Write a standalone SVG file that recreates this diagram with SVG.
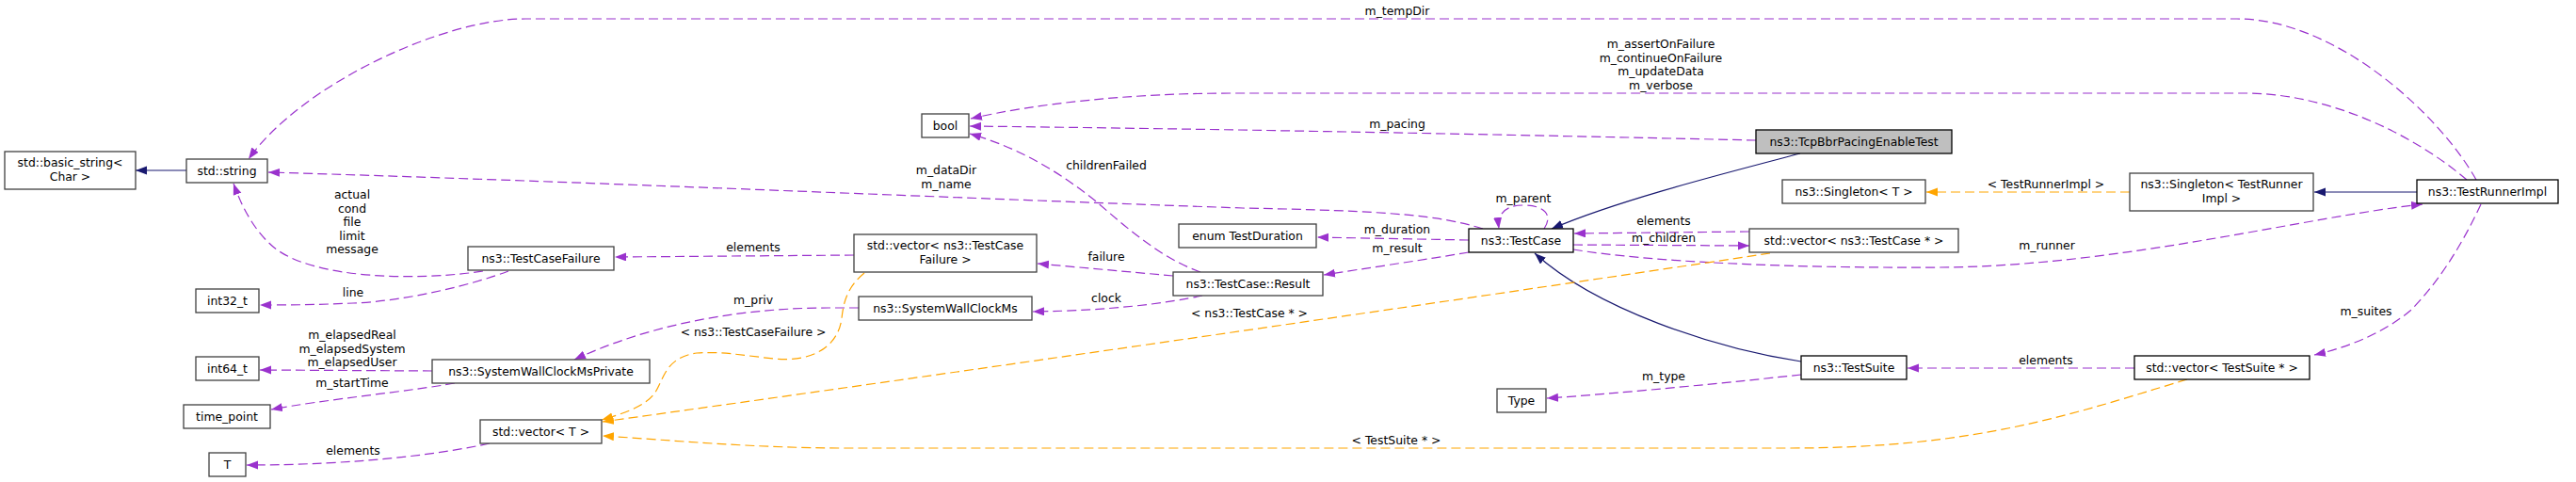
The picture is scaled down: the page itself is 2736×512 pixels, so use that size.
<svg xmlns="http://www.w3.org/2000/svg" width="2736" height="512" viewBox="0 0 2736 512">
<style>
  .n rect { fill: #ffffff; stroke: #404040; stroke-width: 1.3; }
  .n.k rect { stroke: #000000; }
  .n.main rect { fill: #bfbfbf; stroke: #000000; }
  text { font-family: "DejaVu Sans", "Liberation Sans", sans-serif; font-size: 12.4px; fill: #000000; text-anchor: middle; }
  .e { fill: none; stroke-width: 1.2; }
  .p { stroke: #9a32cd; stroke-dasharray: 10,5; marker-end: url(#ap); }
  .o { stroke: #ffa500; stroke-dasharray: 10,5; marker-end: url(#ao); }
  .i { stroke: #191970; marker-end: url(#ai); }
</style>
<defs>
  <marker id="ap" markerUnits="userSpaceOnUse" markerWidth="13" markerHeight="10" refX="12" refY="4.5" orient="auto"><path d="M0,0 L12,4.5 L0,9 z" fill="#9a32cd"/></marker>
  <marker id="ao" markerUnits="userSpaceOnUse" markerWidth="13" markerHeight="10" refX="12" refY="4.5" orient="auto"><path d="M0,0 L12,4.5 L0,9 z" fill="#ffa500"/></marker>
  <marker id="ai" markerUnits="userSpaceOnUse" markerWidth="13" markerHeight="10" refX="12" refY="4.5" orient="auto"><path d="M0,0 L12,4.5 L0,9 z" fill="#191970"/></marker>
</defs>
<rect width="2736" height="512" fill="#ffffff"/>

<g id="connectors">
  <path class="e i" d="M198,181 L144,181"/>
  <path class="e p" d="M2630,191 C2590,120 2480,20 2376,20 L558,20 C470,20 320,90 264,169"/>
  <text x="1484" y="16">m_tempDir</text>
  <path class="e p" d="M2620,191 C2560,140 2470,99 2385,99 L1310,99 C1200,99 1100,110 1031,126"/>
  <text x="1764" y="51">m_assertOnFailure</text>
  <text x="1764" y="65.5">m_continueOnFailure</text>
  <text x="1764" y="80">m_updateData</text>
  <text x="1764" y="94.5">m_verbose</text>
  <path class="e p" d="M1865,149 C1600,143 1300,137 1030,134"/>
  <text x="1484" y="136">m_pacing</text>
  <path class="e p" d="M1275,289 C1235,275 1200,245 1163,213 C1125,183 1085,158 1030,142"/>
  <text x="1175" y="180">childrenFailed</text>
  <path class="e p" d="M1575,243 C1530,229 1480,224 1320,221 C1000,210 600,192 285,183"/>
  <text x="1005" y="185">m_dataDir</text>
  <text x="1005" y="200">m_name</text>
  <path class="e p" d="M513,288 C440,299 330,296 290,262 C270,245 257,220 248,195"/>
  <text x="374" y="211">actual</text>
  <text x="374" y="225.5">cond</text>
  <text x="374" y="240">file</text>
  <text x="374" y="254.5">limit</text>
  <text x="374" y="269">message</text>
  <path class="e p" d="M540,288 C500,303 430,320 375,322 C330,324 300,324 276,324"/>
  <text x="375" y="315">line</text>
  <path class="e p" d="M907,271 L653,273"/>
  <text x="800" y="267">elements</text>
  <path class="e p" d="M912,327 L880,327 C800,327 700,340 610,382"/>
  <text x="800" y="323">m_priv</text>
  <path class="e p" d="M459,394 L276,393"/>
  <text x="374" y="360">m_elapsedReal</text>
  <text x="374" y="375">m_elapsedSystem</text>
  <text x="374" y="389">m_elapsedUser</text>
  <path class="e p" d="M483,407 C440,415 340,425 288,435"/>
  <text x="374" y="410.5">m_startTime</text>
  <path class="e p" d="M520,471 C470,482 380,494 262,494"/>
  <text x="375" y="482.5">elements</text>
  <path class="e p" d="M1246,293 L1102,280"/>
  <text x="1175" y="276.5">failure</text>
  <path class="e p" d="M1277,314 C1240,322 1180,330 1097,331"/>
  <text x="1175" y="321">clock</text>
  <path class="e p" d="M1560,255 L1399,252"/>
  <text x="1484" y="247.5">m_duration</text>
  <path class="e p" d="M1560,268 C1500,278 1450,285 1406,292"/>
  <text x="1484" y="268">m_result</text>
  <path class="e p" d="M1640,243 C1650,228 1640,218 1618,218 C1600,218 1590,226 1592,243"/>
  <text x="1618" y="215">m_parent</text>
  <path class="e i" d="M1912,163 C1840,182 1720,212 1648,243"/>
  <path class="e i" d="M1913,384 C1820,370 1695,328 1630,269"/>
  <path class="e p" d="M1858,246 L1672,248"/>
  <text x="1767" y="239">elements</text>
  <path class="e p" d="M1671,260 L1858,261"/>
  <text x="1767" y="256.5">m_children</text>
  <path class="e p" d="M1671,265 C1750,278 1900,285 2060,284 C2250,283 2450,230 2573,217"/>
  <text x="2174" y="265">m_runner</text>
  <path class="e o" d="M1880,269 C1500,326 1000,398 640,448"/>
  <text x="1327" y="336.5">&lt; ns3::TestCase * &gt;</text>
  <path class="e o" d="M918,290 C900,305 896,320 894,338 C890,370 860,385 823,381 C790,378 770,373 740,375 C705,380 705,405 695,418 C685,432 660,440 639,446"/>
  <text x="800" y="356.5">&lt; ns3::TestCaseFailure &gt;</text>
  <path class="e o" d="M2323,403 C2200,440 2100,476 1900,476 L900,476 C800,476 720,468 640,463"/>
  <text x="1483" y="471.5">&lt; TestSuite * &gt;</text>
  <path class="e o" d="M2262,204 L2046,204"/>
  <text x="2173" y="200">&lt; TestRunnerImpl &gt;</text>
  <path class="e i" d="M2567,204 L2458,204"/>
  <path class="e p" d="M2635,217 C2615,260 2590,300 2560,330 C2530,355 2490,370 2458,377"/>
  <text x="2513" y="335">m_suites</text>
  <path class="e p" d="M2267,391 L2026,391"/>
  <text x="2173" y="386.5">elements</text>
  <path class="e p" d="M1913,398 C1850,405 1720,418 1643,423"/>
  <text x="1767" y="404">m_type</text>
</g>

<g id="n_basic_string" class="n"><rect x="5" y="161" width="139" height="40"/><text x="74.5" y="176.5">std::basic_string&lt;</text><text x="74.5" y="191.5">Char &gt;</text></g>
<g id="n_string" class="n"><rect x="198" y="169" width="86" height="25"/><text x="241" y="185.5">std::string</text></g>
<g id="n_int32" class="n"><rect x="208" y="307" width="67" height="25"/><text x="241.5" y="323.5">int32_t</text></g>
<g id="n_int64" class="n"><rect x="208" y="379" width="67" height="25"/><text x="241.5" y="395.5">int64_t</text></g>
<g id="n_time_point" class="n"><rect x="195" y="430" width="92" height="25"/><text x="241" y="446.5">time_point</text></g>
<g id="n_T" class="n"><rect x="222" y="481" width="39" height="25"/><text x="241.5" y="497.5">T</text></g>
<g id="n_TestCaseFailure" class="n"><rect x="497" y="262" width="155" height="25"/><text x="574.5" y="278.5">ns3::TestCaseFailure</text></g>
<g id="n_SWCMPrivate" class="n"><rect x="459" y="382" width="231" height="25"/><text x="574.5" y="398.5">ns3::SystemWallClockMsPrivate</text></g>
<g id="n_vector_T" class="n"><rect x="510" y="446" width="129" height="25"/><text x="574.5" y="462.5">std::vector&lt; T &gt;</text></g>
<g id="n_bool" class="n"><rect x="979" y="121" width="50" height="25"/><text x="1004" y="137.5">bool</text></g>
<g id="n_vector_TCF" class="n"><rect x="907" y="249" width="194" height="40"/><text x="1004" y="264.5">std::vector&lt; ns3::TestCase</text><text x="1004" y="279.5">Failure &gt;</text></g>
<g id="n_SWCM" class="n"><rect x="912" y="315" width="184" height="25"/><text x="1004" y="331.5">ns3::SystemWallClockMs</text></g>
<g id="n_Result" class="n"><rect x="1246" y="289" width="159" height="25"/><text x="1325.5" y="305.5">ns3::TestCase::Result</text></g>
<g id="n_TestDuration" class="n"><rect x="1252" y="238" width="146" height="25"/><text x="1325" y="254.5">enum TestDuration</text></g>
<g id="n_TestCase" class="n k"><rect x="1560" y="243" width="111" height="25"/><text x="1615.5" y="259.5">ns3::TestCase</text></g>
<g id="n_Type" class="n"><rect x="1590" y="413" width="52" height="25"/><text x="1616" y="429.5">Type</text></g>
<g id="n_TcpBbr" class="n main"><rect x="1865" y="138" width="208" height="25"/><text x="1969" y="154.5">ns3::TcpBbrPacingEnableTest</text></g>
<g id="n_Singleton_T" class="n"><rect x="1893" y="191" width="152" height="25"/><text x="1969" y="207.5">ns3::Singleton&lt; T &gt;</text></g>
<g id="n_vector_TestCase" class="n"><rect x="1858" y="243" width="222" height="25"/><text x="1969" y="259.5">std::vector&lt; ns3::TestCase * &gt;</text></g>
<g id="n_TestSuite" class="n k"><rect x="1913" y="378" width="112" height="25"/><text x="1969" y="394.5">ns3::TestSuite</text></g>
<g id="n_Singleton_TRI" class="n"><rect x="2262" y="184" width="195" height="40"/><text x="2359.5" y="199.5">ns3::Singleton&lt; TestRunner</text><text x="2359.5" y="214.5">Impl &gt;</text></g>
<g id="n_TestRunnerImpl" class="n k"><rect x="2567" y="191" width="150" height="25"/><text x="2642" y="207.5">ns3::TestRunnerImpl</text></g>
<g id="n_vector_TestSuite" class="n k"><rect x="2267" y="378" width="186" height="25"/><text x="2360" y="394.5">std::vector&lt; TestSuite * &gt;</text></g>
</svg>
